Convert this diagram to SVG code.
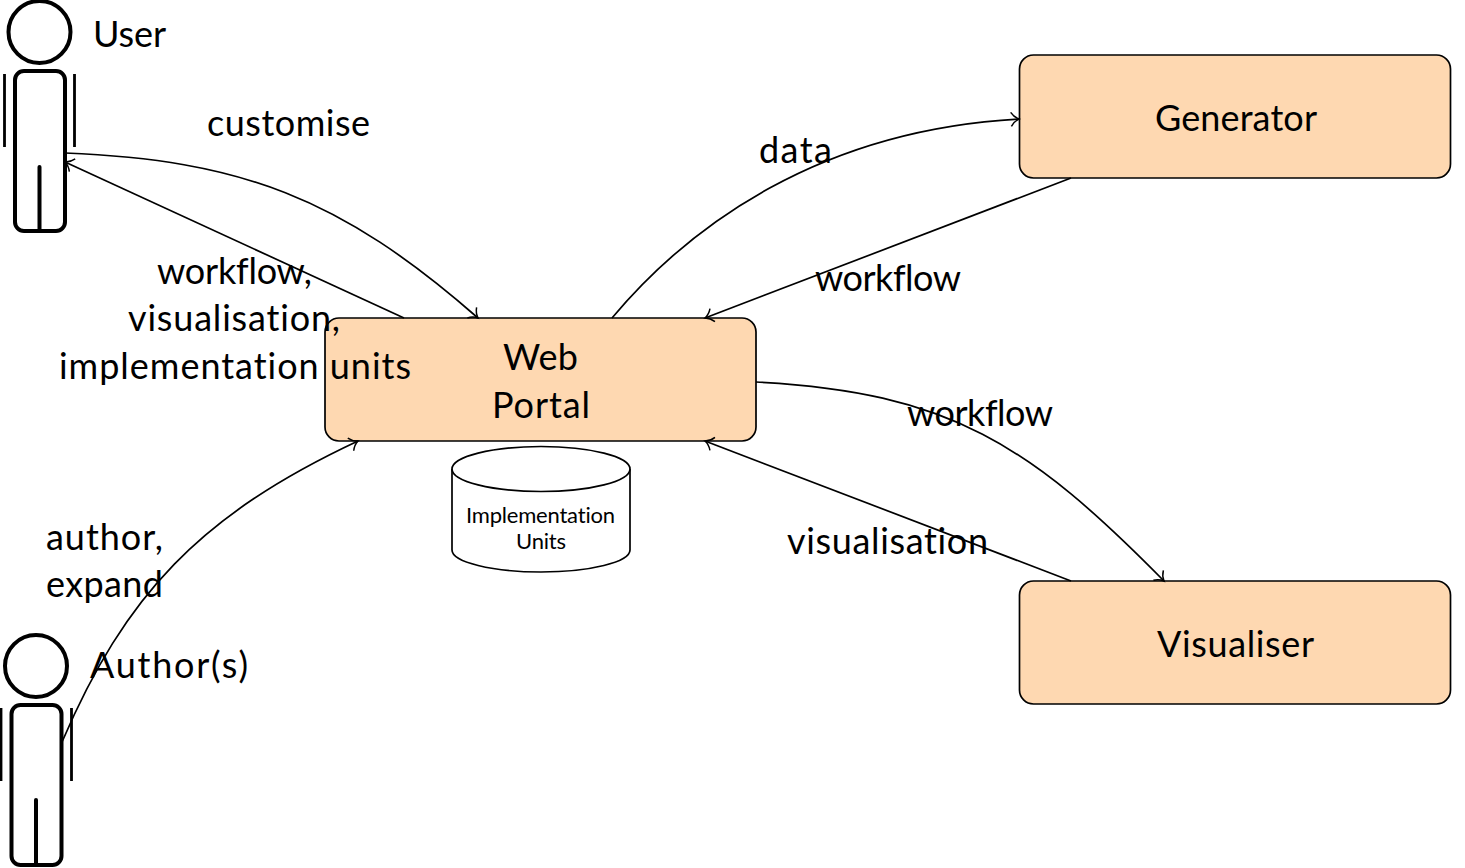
<svg xmlns="http://www.w3.org/2000/svg" width="1465" height="868" viewBox="0 0 1465 868">
<style>
text{font-family:"Lato","Open Sans","Liberation Sans",sans-serif;font-variant-ligatures:none;fill:#000;stroke:none;text-anchor:middle;font-size:36px}
.box{fill:#fed8b1;stroke:#000;stroke-width:1.7}
.actor{fill:#fff;stroke:#000;stroke-width:4;stroke-linecap:round}
.arm{fill:none;stroke-width:2.8;stroke-linecap:butt}
.conn{fill:none;stroke:#000;stroke-width:1.7}
.can{fill:#fff;stroke:#000;stroke-width:1.7}
.small{font-size:22px}
</style>
<defs>
<marker id="to" markerUnits="userSpaceOnUse" markerWidth="16" markerHeight="20" refX="11" refY="10" orient="auto">
<path d="M3 3 Q6 8 11 10 Q6 12 3 17" fill="none" stroke="#000" stroke-width="1.5"/>
</marker>
</defs>
<g id="user" class="actor">
<circle cx="39.500" cy="32" r="31"/>
<rect x="15" y="71" width="50" height="160" rx="9"/>
<path class="arm" d="M4.500 74V147M74.500 74V147"/>
<path d="M39.500 167V231"/>
<text x="129.500" y="46.500" textLength="73">User</text>
</g>
<g id="author" class="actor">
<circle cx="36" cy="666" r="31"/>
<rect x="11.500" y="705" width="50" height="160" rx="9"/>
<path class="arm" d="M1 708V781M71.500 708V781"/>
<path d="M36 800V865"/>
<text x="169" y="677.500" textLength="158">Author(s)</text>
</g>
<g id="web-portal">
<rect class="box" x="325" y="318" width="431" height="123" rx="14"/>
<text x="540.500" y="369.500" textLength="75">Web</text>
<text x="541" y="417.500" textLength="98">Portal</text>
</g>
<g id="generator">
<rect class="box" x="1019.500" y="55" width="431" height="123" rx="14"/>
<text x="1236" y="130.500" textLength="162">Generator</text>
</g>
<g id="visualiser">
<rect class="box" x="1019.500" y="581" width="431" height="123" rx="14"/>
<text x="1235.500" y="656.500" textLength="157">Visualiser</text>
</g>
<g id="implementation-units">
<path class="can" d="M452 469V550C452 562 492 572 541 572S630 562 630 550V469"/>
<ellipse class="can" cx="541" cy="469" rx="89" ry="22.500"/>
<text class="small" x="540.500" y="522.500" textLength="149">Implementation</text>
<text class="small" x="541" y="548.500" textLength="50">Units</text>
</g>
<g id="connectors">
<path class="conn" marker-end="url(#to)" d="M65 153C240 160 340 197 478 318"/>
<path class="conn" marker-end="url(#to)" d="M404 318L65 162"/>
<path class="conn" marker-end="url(#to)" d="M612 318C690 225 820 130 1019 119"/>
<path class="conn" marker-end="url(#to)" d="M1071 178L705 318"/>
<path class="conn" marker-end="url(#to)" d="M756 382C950 392 1030 445 1164 581"/>
<path class="conn" marker-end="url(#to)" d="M1071 581L705 441"/>
<path class="conn" marker-end="url(#to)" d="M62 742C125 595 200 515 358 441"/>
</g>
<g id="labels">
<text x="288.500" y="135.500" textLength="163">customise</text>
<text x="234.500" y="283.500" textLength="155">workflow,</text>
<text x="234" y="330.500" textLength="212">visualisation,</text>
<text x="235" y="378.500" textLength="352">implementation units</text>
<text x="795.500" y="162.500" textLength="73">data</text>
<text x="888" y="290.500" textLength="146">workflow</text>
<text x="980" y="425.500" textLength="146">workflow</text>
<text x="887.500" y="553.500" textLength="201">visualisation</text>
<text x="104.500" y="549.500" textLength="117">author,</text>
<text x="104.500" y="596.500" textLength="117">expand</text>
</g>
</svg>
